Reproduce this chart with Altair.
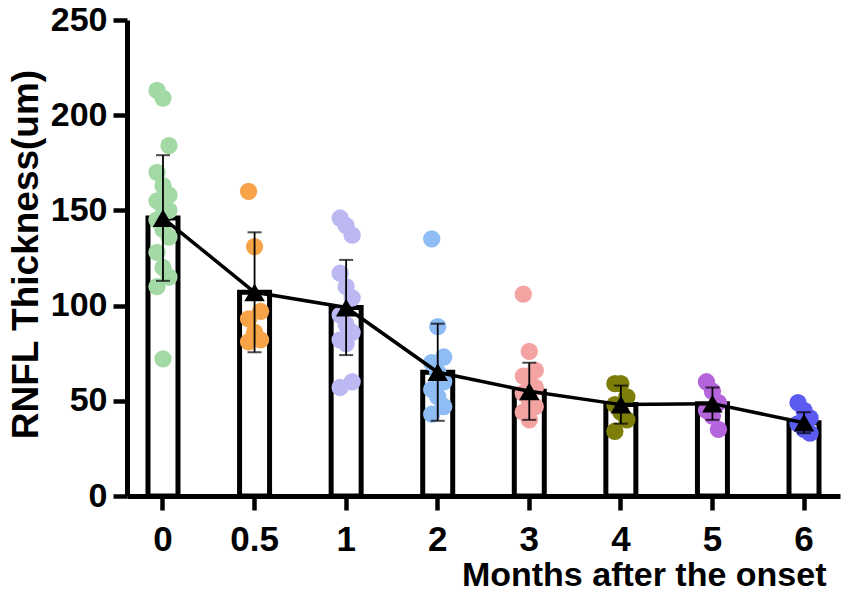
import altair as alt
import pandas as pd

months = ["0", "0.5", "1", "2", "3", "4", "5", "6"]

# individual RNFL thickness values per time point
pts_0 = [213, 209, 184, 170, 163, 158, 155, 152, 150, 145, 140, 136, 128, 120, 115, 110, 72]
pts_05 = [160, 131, 97, 93, 86, 82, 81]
pts_1 = [146, 142, 137, 117, 110, 104, 95, 90, 86, 82, 80, 60, 57]
pts_2 = [135, 89, 73, 70, 65, 60, 56, 52, 47, 43]
pts_3 = [106, 76, 66, 63, 60, 57, 54, 50, 47, 44, 40]
pts_4 = [59, 59, 52, 48, 44, 40, 34]
pts_5 = [60, 55, 49, 45, 42, 35]
pts_6 = [49, 45, 41, 38, 35, 33]

# group mean and SD
means = [146, 107, 99, 65, 55, 48, 48.5, 38.5]
sds = [33, 31.5, 25, 25.5, 15, 10, 8.5, 5.5]

colors = ["#a3d9a5", "#f7a348", "#bcb8f2", "#8ebcf4", "#f4a3a3", "#7d7d0a", "#b565dc", "#5b5bf2"]

groups = [pts_0, pts_05, pts_1, pts_2, pts_3, pts_4, pts_5, pts_6]
rows = []
for m, vals in zip(months, groups):
    for i, v in enumerate(vals):
        # small side-by-side spread so overlapping dots stay visible
        rows.append({"month": m, "value": v, "jit": (i % 3) - 1})
points_df = pd.DataFrame(rows)

summary = pd.DataFrame({"month": months, "mean": means, "sd": sds})
summary["lo"] = summary["mean"] - summary["sd"]
summary["hi"] = summary["mean"] + summary["sd"]

FONT = "Liberation Sans"

x_enc = alt.X(
    "month:N",
    sort=months,
    scale=alt.Scale(domain=months, paddingInner=0.62, paddingOuter=0.203),
    axis=alt.Axis(
        title="Months after the onset",
        labelAngle=0,
        bandPosition=0.5,
        labelBaseline="alphabetic",
        labelPadding=40,
        labelFontSize=35,
        titleAnchor="start",
        titleAlign="right",
        titleX=699,
        titleY=89,
        titleBaseline="alphabetic",
        titleFontSize=34,
    ),
)
y_scale = alt.Scale(domain=[0, 250], nice=False)
y_axis = alt.Axis(
    title="RNFL Thickness(um)",
    values=[0, 50, 100, 150, 200, 250],
    labelPadding=6,
    labelFontSize=34,
    titleAngle=-90,
    titleX=-90,
    titleY=234,
    titleAlign="center",
    titleBaseline="alphabetic",
    titleFontSize=37,
)

bars = (
    alt.Chart(summary)
    .mark_bar(size=30, fill="white", stroke="black", strokeWidth=5)
    .encode(x=x_enc, y=alt.Y("mean:Q", scale=y_scale, axis=y_axis))
)

dots = (
    alt.Chart(points_df)
    .mark_circle(size=300, opacity=1)
    .encode(
        x=alt.X("month:N", sort=months),
        xOffset=alt.XOffset("jit:Q", scale=alt.Scale(domain=[-1, 1], range=[11.4, 23.4])),
        y=alt.Y("value:Q", scale=y_scale),
        color=alt.Color("month:N", scale=alt.Scale(domain=months, range=colors), legend=None),
    )
)

base = alt.Chart(summary).encode(x=alt.X("month:N", sort=months))

line = base.mark_line(color="black", strokeWidth=3.5).encode(y=alt.Y("mean:Q", scale=y_scale))

err = base.mark_rule(color="black", strokeWidth=1.8).encode(
    y=alt.Y("lo:Q", scale=y_scale), y2="hi:Q"
)
cap_hi = base.mark_tick(color="black", size=14, thickness=2).encode(y=alt.Y("hi:Q", scale=y_scale))
cap_lo = base.mark_tick(color="black", size=14, thickness=2).encode(y=alt.Y("lo:Q", scale=y_scale))

tri = base.mark_point(shape="triangle-up", filled=True, color="black", size=420, opacity=1).encode(
    y=alt.Y("mean:Q", scale=y_scale)
)

chart = (
    alt.layer(bars, dots, line, err, cap_hi, cap_lo, tri)
    .properties(
        width=713,
        height=476,
        autosize=alt.AutoSizeParams(type="none"),
        padding={"left": 119, "top": 12, "right": 3, "bottom": 94},
    )
    .configure_view(stroke=None)
    .configure_axis(
        grid=False,
        domainColor="black",
        domainWidth=5,
        tickColor="black",
        tickWidth=4.5,
        tickSize=14,
        labelFont=FONT,
        labelFontWeight="bold",
        labelColor="black",
        titleFont=FONT,
        titleFontWeight="bold",
        titleColor="black",
    )
)

chart.save("out.html", embed_options={"renderer": "svg", "actions": False})
